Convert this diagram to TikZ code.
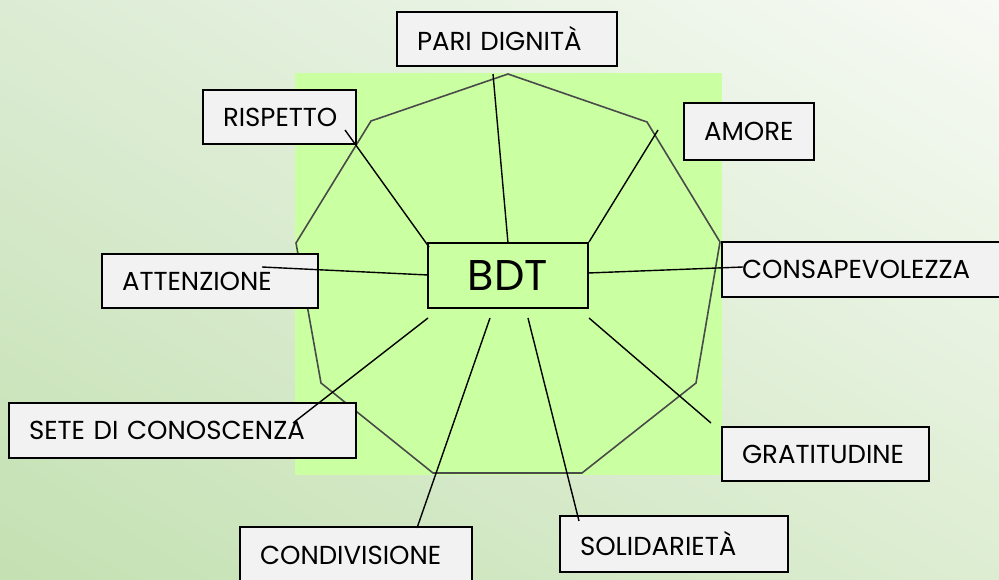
\documentclass[tikz,border=0pt]{standalone}
\usepackage{fontspec}
\setmainfont{Poppins}
\usetikzlibrary{shadings}
\definecolor{bgUL}{HTML}{DCECD4}
\definecolor{bgUR}{HTML}{F7FAF5}
\definecolor{bgLL}{HTML}{C4E1B2}
\definecolor{bgLR}{HTML}{DDEDD2}
\definecolor{leaf}{RGB}{202,255,162}
\definecolor{boxgray}{HTML}{F2F2F2}
\definecolor{edge}{HTML}{4A4A4A}
\tikzset{
  lbl/.style={draw=black, line width=1.6pt, fill=boxgray, anchor=north west, outer sep=0pt,
    inner xsep=20pt, inner ysep=0pt, align=left, font=\fontsize{26}{30}\selectfont},
  hub/.style={draw=black, line width=1.6pt, fill=leaf, outer sep=0pt, minimum width=160pt,
    minimum height=65pt, font=\fontsize{43}{47}\selectfont},
  conn/.style={draw=black, line width=1.4pt},
  polyline/.style={draw=edge, line width=1.6pt}
}
\begin{document}
\begin{tikzpicture}[x=1pt,y=-1pt]
\useasboundingbox (0,0) rectangle (999,580);
\shade[upper left=bgUL, upper right=bgUR, lower left=bgLL, lower right=bgLR] (0,0) rectangle (999,580);
\fill[leaf] (295,73) rectangle (722,475);
\draw[polyline] (508,74) -- (647,122) -- (720,242) -- (696,383) -- (582,473) -- (433,473) -- (321,383) -- (296,243) -- (371,121) -- cycle;
% labels
\node[lbl, text width=180pt, minimum height=54pt] (pari) at (397,12) {\mbox{PARI DIGNITÀ}};
\node[lbl, text width=113pt, minimum height=54pt] (risp) at (203,90) {\mbox{RISPETTO}};
\node[lbl, text width=90pt, minimum height=57pt] (amore) at (684,103) {\mbox{AMORE}};
\node[lbl, text width=176pt, minimum height=54pt] (att) at (102,254) {\mbox{ATTENZIONE}};
\node[lbl, text width=260pt, minimum height=55pt] (consa) at (722,242) {\mbox{CONSAPEVOLEZZA}};
\node[lbl, text width=307pt, minimum height=55pt] (sete) at (9,403) {\mbox{SETE DI CONOSCENZA}};
\node[lbl, text width=167pt, minimum height=54pt] (grat) at (722,427) {\mbox{GRATITUDINE}};
\node[lbl, text width=192pt, minimum height=56pt] (condi) at (240,527) {\mbox{CONDIVISIONE}};
\node[lbl, text width=188pt, minimum height=56pt] (soli) at (560,516) {\mbox{SOLIDARIETÀ}};
% hub
\node[hub] (bdt) at (508,275.5) {BDT};
% connector ends
\coordinate (p1) at (493,74);   \coordinate (p2) at (508,243);
\coordinate (r1) at (345,130);  \coordinate (r2) at (429,247);
\coordinate (a1) at (658,130);  \coordinate (a2) at (589,242);
\coordinate (t1) at (262,267);  \coordinate (t2) at (428,275);
\coordinate (c1) at (743,267);  \coordinate (c2) at (588,273);
\coordinate (s1) at (293,423);  \coordinate (s2) at (428,318);
\coordinate (d1) at (417,528);  \coordinate (d2) at (490,318);
\coordinate (o1) at (579,521);  \coordinate (o2) at (528,318);
\coordinate (g1) at (711,423);  \coordinate (g2) at (589,318);
\draw[conn] (p1) -- (p2);
\draw[conn] (r1) -- (r2);
\draw[conn] (a1) -- (a2);
\draw[conn] (t1) -- (t2);
\draw[conn] (c1) -- (c2);
\draw[conn] (s1) -- (s2);
\draw[conn] (d1) -- (d2);
\draw[conn] (o1) -- (o2);
\draw[conn] (g1) -- (g2);
\end{tikzpicture}
\end{document}
